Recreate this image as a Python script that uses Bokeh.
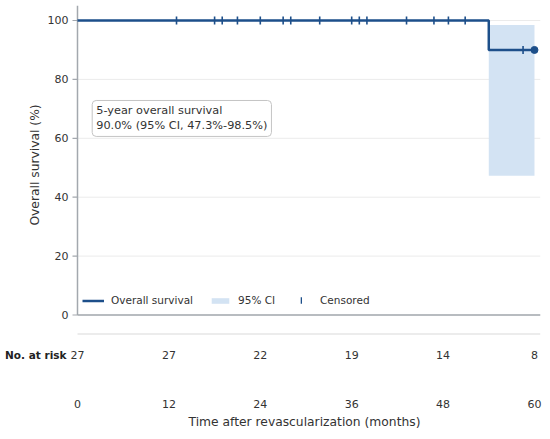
import numpy as np
from bokeh.plotting import figure
from bokeh.layouts import column
from bokeh.models import Range1d, FixedTicker, Label, Legend, LegendItem
from bokeh.core.properties import value
from bokeh.embed import file_html
from bokeh.resources import INLINE

# ---------------- data ----------------
km_time = [0.0, 54.0, 60.0]
km_surv = [100.0, 90.0, 90.0]
censor_times = [13.0, 18.0, 19.0, 21.0, 24.0, 27.0, 28.0, 31.8, 36.0, 37.0,
                38.0, 43.2, 46.8, 48.7, 50.9, 58.5]
end_time = [60.0]
ci_time = [54.0, 60.0]
ci_lower = [47.3, 47.3]
ci_upper = [98.5, 98.5]
risk_times = [0, 12, 24, 36, 48, 60]
risk_counts = [27, 27, 22, 19, 14, 8]
risk_title = "No. at risk"
y_ticks = [0, 20, 40, 60, 80, 100]
annotation_text = "5-year overall survival\n90.0% (95% CI, 47.3%-98.5%)"

# ---------------- style ----------------
FONT = "DejaVu Sans"
BLUE = "#1d4f8a"
BAND = "#d3e3f3"
SPINE = "#a3a8ae"
GRID = "#ebebeb"
TXT = "#333333"

PX_PER_MONTH = 7.6164
X_END = 60.79
X_START = -9 / PX_PER_MONTH
Y_TOP = 105.09
Y_BOT = -3.23
PX_PER_PCT = 319 / (Y_TOP - Y_BOT)


def surv_at(t):
    idx = np.searchsorted(km_time, t, side="right") - 1
    return np.array([km_surv[i] for i in idx])


censor_y = surv_at(np.array(censor_times))
end_y = surv_at(np.array(end_time))
tick_half = 4.0 / PX_PER_PCT
tick_w = 1.6 / PX_PER_MONTH
ytick_len = 5.0 / PX_PER_MONTH
x0 = risk_times[0]

xr = Range1d(X_START, X_END)

# ---------------- KM panel ----------------
p = figure(width=542, height=324, x_range=xr, y_range=Range1d(Y_BOT, Y_TOP),
           output_backend="svg", toolbar_location=None, x_axis_location=None,
           min_border_left=68, min_border_right=2, min_border_top=5,
           min_border_bottom=0)
p.outline_line_color = None
p.background_fill_color = "white"
p.grid.visible = False

ya = p.yaxis[0]
ya.ticker = FixedTicker(ticks=y_ticks)
ya.axis_line_color = None
ya.major_tick_line_color = None
ya.minor_tick_line_color = None
ya.major_tick_out = 0
ya.major_tick_in = 0
ya.major_label_text_font = FONT
ya.major_label_text_font_size = "11px"
ya.major_label_text_color = TXT
ya.major_label_standoff = 0
ya.axis_label = "Overall survival (%)"
ya.axis_label_text_font = FONT
ya.axis_label_text_font_size = "12.3px"
ya.axis_label_text_font_style = "normal"
ya.axis_label_text_color = TXT
ya.axis_label_standoff = 3

n = len(y_ticks)
# horizontal grid lines limited to the data span
p.segment(x0=[x0] * n, x1=[X_END] * n, y0=y_ticks, y1=y_ticks,
          line_color=GRID, line_width=1)
# left spine with outward ticks, and bottom spine
p.segment(x0=[x0], x1=[x0], y0=[y_ticks[0]], y1=[Y_TOP],
          line_color=SPINE, line_width=1.5)
p.segment(x0=[x0 - ytick_len] * n, x1=[x0] * n, y0=y_ticks, y1=y_ticks,
          line_color=SPINE, line_width=1.2)
p.segment(x0=[x0], x1=[X_END], y0=[y_ticks[0]], y1=[y_ticks[0]],
          line_color=SPINE, line_width=1.5)

band = p.varea(x=ci_time, y1=ci_lower, y2=ci_upper, fill_color=BAND, fill_alpha=1.0)
line = p.step(x=km_time, y=km_surv, mode="after", line_color=BLUE, line_width=2.5)
cens = p.vbar(x=censor_times, width=tick_w, bottom=censor_y - tick_half,
              top=censor_y + tick_half, fill_color=BLUE, line_color=None)
p.scatter(x=end_time, y=end_y, marker="circle", size=7, fill_color=BLUE,
          line_color=BLUE)

common = dict(orientation="horizontal", margin=0, padding=0,
              label_text_font=FONT, label_text_font_size="10.5px",
              label_text_color=TXT, background_fill_alpha=0,
              border_line_color=None, label_height=10, label_width=0)
legend1 = Legend(items=[LegendItem(label="Overall survival", renderers=[line]),
                        LegendItem(label="95% CI", renderers=[band])],
                 location=(14, 18), spacing=16, glyph_width=22, glyph_height=7,
                 label_standoff=7, **common)
legend2 = Legend(items=[LegendItem(label="Censored", renderers=[cens])],
                 location=(232, 18), glyph_width=2, glyph_height=8,
                 label_standoff=18, **common)
p.add_layout(legend1)
p.add_layout(legend2)

box = Label(x=1.93, y=72.84, text=annotation_text, anchor="top_left",
            text_font=FONT, text_font_size="11.3px", text_color=TXT,
            text_line_height=1.15, padding=4, border_radius=4,
            background_fill_color="white", border_line_color="#c4c4c4",
            border_line_width=1)
p.add_layout(box)

# ---------------- at-risk panel ----------------
risk_row_y = -30
sep_y = -9.5
p2 = figure(width=542, height=107, x_range=xr, y_range=Range1d(-72, 0),
            output_backend="svg", toolbar_location=None,
            min_border_left=68, min_border_right=2, min_border_top=0,
            min_border_bottom=0)
p2.outline_line_color = None
p2.grid.visible = False

p2.segment(x0=[x0], x1=[X_END], y0=[sep_y], y1=[sep_y],
           line_color="#e6e6e6", line_width=1.5)
p2.text(x=risk_times, y=[risk_row_y] * len(risk_times),
        text=[str(c) for c in risk_counts], text_align="center",
        text_baseline="middle", text_font=value(FONT), text_font_size="11px",
        text_color=TXT)

y2 = p2.yaxis[0]
y2.ticker = FixedTicker(ticks=[risk_row_y])
y2.major_label_overrides = {risk_row_y: risk_title}
y2.major_label_text_font = FONT
y2.major_label_text_font_style = "bold"
y2.major_label_text_font_size = "10.5px"
y2.major_label_text_color = "#222222"
y2.major_label_standoff = 2
y2.major_tick_out = 0
y2.major_tick_in = 0
y2.axis_line_color = None
y2.major_tick_line_color = None
y2.minor_tick_line_color = None

x2 = p2.xaxis[0]
x2.ticker = FixedTicker(ticks=risk_times)
x2.axis_line_color = None
x2.major_tick_line_color = None
x2.minor_tick_line_color = None
x2.major_tick_out = 0
x2.major_tick_in = 0
x2.major_label_text_font = FONT
x2.major_label_text_font_size = "11px"
x2.major_label_text_color = TXT
x2.major_label_standoff = 3
x2.axis_label = "Time after revascularization (months)"
x2.axis_label_text_font = FONT
x2.axis_label_text_font_size = "12.3px"
x2.axis_label_text_font_style = "normal"
x2.axis_label_text_color = TXT
x2.axis_label_standoff = 4

layout = column(p, p2)
open("out.html", "w").write(file_html(layout, INLINE))
